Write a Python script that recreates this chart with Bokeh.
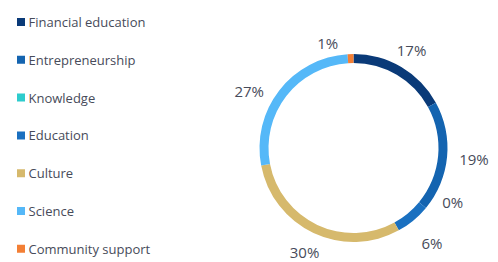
import math
from bokeh.plotting import figure
from bokeh.models import ColumnDataSource, Range1d
from bokeh.core.properties import value
from bokeh.embed import file_html
from bokeh.resources import INLINE

categories = ["Financial education", "Entrepreneurship", "Knowledge", "Education",
              "Culture", "Science", "Community support"]
shares = [17, 19, 0, 6, 30, 27, 1]
labels = ["17%", "19%", "0%", "6%", "30%", "27%", "1%"]
colors = ["#0a3a78", "#1464b0", "#2dcccd", "#1a70c0", "#d6b96c", "#55b8f8", "#f37f35"]

W, H = 498, 262
p = figure(width=W, height=H, output_backend="svg", toolbar_location=None,
           x_range=Range1d(0, W), y_range=Range1d(0, H), min_border=0,
           outline_line_color=None)
p.axis.visible = False
p.grid.visible = False
p.background_fill_color = "white"
p.border_fill_color = "white"

cx, cy = 353, H - 147.5
r_out, r_in = 94, 85
total = sum(shares)
starts, ends, mids = [], [], []
cum = 0
for s in shares:
    a0 = math.pi / 2 - 2 * math.pi * cum / total
    cum += s
    a1 = math.pi / 2 - 2 * math.pi * cum / total
    starts.append(a0); ends.append(a1); mids.append((a0 + a1) / 2)

keep = [i for i, s in enumerate(shares) if s > 0]
wsrc = ColumnDataSource(dict(
    start=[starts[i] for i in keep], end=[ends[i] for i in keep],
    color=[colors[i] for i in keep]))
p.annular_wedge(x=cx, y=cy, inner_radius=r_in, outer_radius=r_out,
                start_angle="start", end_angle="end", direction="clock",
                color="color", line_color=None, source=wsrc)

# label placement (small nudges mimic collision avoidance)
nudge = {2: math.radians(11), 5: math.radians(9), 6: math.radians(12)}
rad = {0: 114, 1: 121, 2: 113, 3: 123, 4: 115, 5: 119, 6: 108}
lx, ly = [], []
for i, m in enumerate(mids):
    a = m + nudge.get(i, 0)
    lx.append(cx + rad[i] * math.cos(a))
    ly.append(cy + rad[i] * math.sin(a))
p.text(x=lx, y=ly, text=labels, text_align="center", text_baseline="middle",
       text_font=value("Open Sans"), text_font_size="15px", text_color="#474b5a")

# legend
rows_y = [H - (21.5 + k * 37.8) for k in range(len(categories))]
p.scatter(x=[20.5] * len(categories), y=rows_y, marker="square", size=8,
          color=colors, line_color=None)
p.text(x=[28] * len(categories), y=rows_y, text=categories, text_align="left",
       text_baseline="middle", text_font=value("Open Sans"), text_font_size="13px",
       text_color="#474b5a")

open("out.html", "w").write(file_html(p, INLINE))
